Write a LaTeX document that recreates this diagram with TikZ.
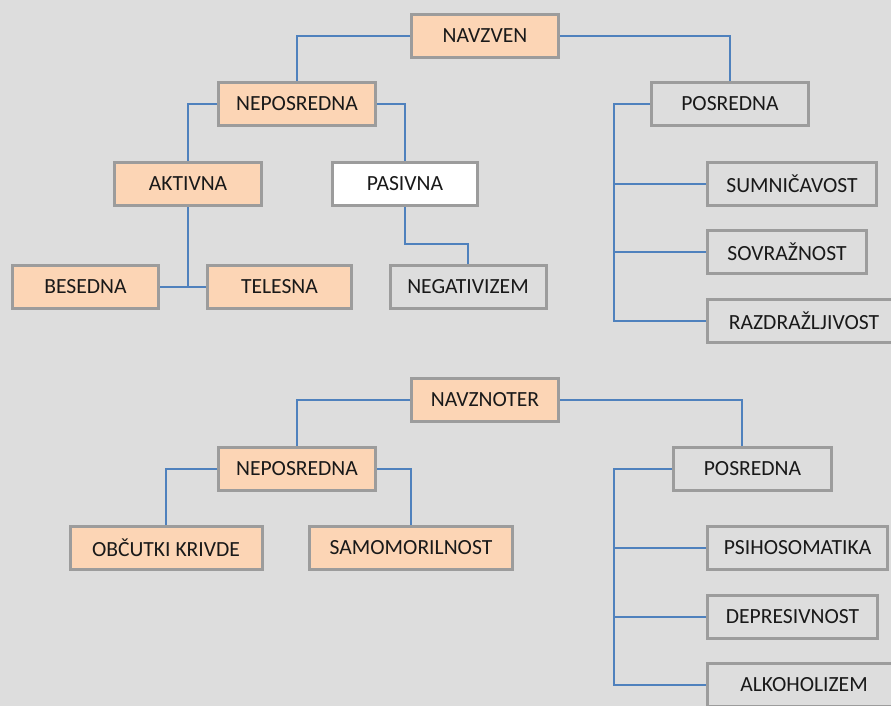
\documentclass[tikz,border=0pt]{standalone}
\usepackage{fontspec}
\setmainfont{Carlito}
\usepackage{xcolor}
\usepackage{tikz}
\definecolor{MyBack}{HTML}{DDDDDD}
\definecolor{MyPeach}{HTML}{FCD5B5}
\definecolor{MyFrame}{HTML}{9C9C9C}
\definecolor{MyBlue}{HTML}{4F81BD}
\tikzset{
	MyPx/.style={x=1pt,y=-1pt},% pixel coordinates, y going down
	MyBox/.style={draw=MyFrame,line width=3pt,minimum height=43pt,
    inner sep=0pt,text=black!90,font=\fontsize{21.6}{26}\selectfont},
	MyPeachBox/.style={MyBox,fill=MyPeach},
	MyWhiteBox/.style={MyBox,fill=white},
	MyGrayBox/.style={MyBox,fill=MyBack},
	MyLink/.style={draw=MyBlue,line width=1.9pt}
		}

\begin{document}
\begin{tikzpicture}[MyPx]
	\fill[MyBack] (0,0) rectangle (891,706);
	\useasboundingbox (0,0) rectangle (891,706);

	% upper tree
	\node[MyPeachBox,minimum width=147pt] (navzven) at (485,36) {NAVZVEN};
	\node[MyPeachBox,minimum width=157pt] (nepA) at (297,104) {NEPOSREDNA};
	\node[MyGrayBox,minimum width=157pt] (posA) at (730,104) {POSREDNA};
	\node[MyPeachBox,minimum width=147pt] (akt) at (188,184) {AKTIVNA};
	\node[MyWhiteBox,minimum width=145pt] (pas) at (405,184) {PASIVNA};
	\node[MyGrayBox,minimum width=169pt] (sum) at (792,184) {SUMNIČAVOST};
	\node[MyGrayBox,minimum width=159pt] (sov) at (787,252) {SOVRAŽNOST};
	\node[MyPeachBox,minimum width=146pt] (bes) at (85.5,287) {BESEDNA};
	\node[MyPeachBox,minimum width=144pt] (tel) at (279.5,287) {TELESNA};
	\node[MyGrayBox,minimum width=156pt] (neg) at (468,287) {NEGATIVIZEM};
	\node[MyGrayBox,minimum width=193pt] (raz) at (804,321) {RAZDRAŽLJIVOST};
	\coordinate (spineA) at (614,104);

	\draw[MyLink] (navzven.west) -| (nepA.north);
	\draw[MyLink] (navzven.east) -| (posA.north);
	\draw[MyLink] (nepA.west) -| (akt.north);
	\draw[MyLink] (nepA.east) -| (pas.north);
	\draw[MyLink] (akt.south) -- (akt.south |- bes.east);
	\draw[MyLink] (bes.east) -- (tel.west);
	\draw[MyLink] (pas.south) -- ++(0,37) -| (neg.north);
	\draw[MyLink] (posA.west) -- (spineA) |- (raz.west);
	\foreach \n in {sum,sov}
		{\draw[MyLink] (spineA |- \n.west) -- (\n.west);}

	% lower tree
	\node[MyPeachBox,minimum width=147pt] (navznoter) at (485,400) {NAVZNOTER};
	\node[MyPeachBox,minimum width=157pt] (nepB) at (297,469) {NEPOSREDNA};
	\node[MyGrayBox,minimum width=158pt] (posB) at (752.5,469) {POSREDNA};
	\node[MyPeachBox,minimum width=192pt] (obc) at (166,548) {OBČUTKI KRIVDE};
	\node[MyPeachBox,minimum width=203pt] (samo) at (411,548) {SAMOMORILNOST};
	\node[MyGrayBox,minimum width=180pt] (psi) at (797.5,548) {PSIHOSOMATIKA};
	\node[MyGrayBox,minimum width=170pt] (dep) at (792.5,617) {DEPRESIVNOST};
	\node[MyGrayBox,minimum width=193pt] (alk) at (804,685) {ALKOHOLIZEM};
	\coordinate (spineB) at (614,469);

	\draw[MyLink] (navznoter.west) -| (nepB.north);
	\draw[MyLink] (navznoter.east) -| ([xshift=-10.5pt]posB.north);
	\draw[MyLink] (nepB.west) -| (obc.north);
	\draw[MyLink] (nepB.east) -| (samo.north);
	\draw[MyLink] (posB.west) -- (spineB) |- (alk.west);
	\foreach \n in {psi,dep}
		{\draw[MyLink] (spineB |- \n.west) -- (\n.west);}
\end{tikzpicture}
\end{document}
